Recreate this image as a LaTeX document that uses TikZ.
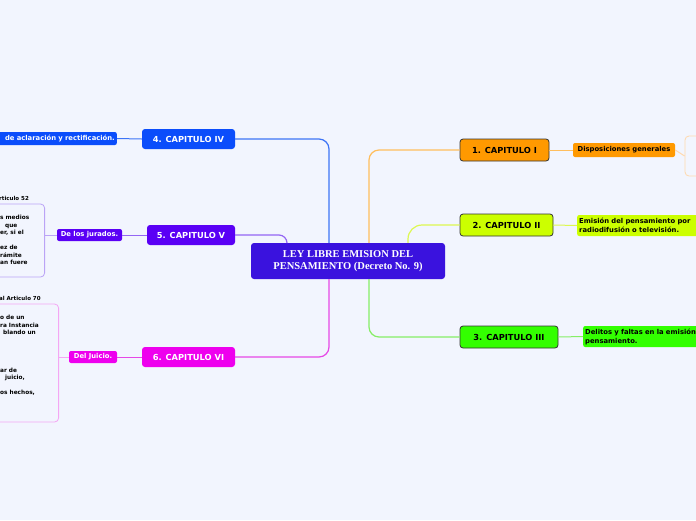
\documentclass[tikz,border=0pt]{standalone}
\usepackage{fontspec}
\setmainfont{DejaVu Sans}
\newfontfamily\serifb{Liberation Serif}
\usetikzlibrary{calc}
\definecolor{bg}{HTML}{F2F5FE}
\definecolor{rootC}{HTML}{3A12DE}
\definecolor{orangeC}{HTML}{FF9900}
\definecolor{orangeL}{HTML}{FFBE5E}
\definecolor{orangeB}{HTML}{FFD9AE}
\definecolor{limeC}{HTML}{CCFF00}
\definecolor{limeL}{HTML}{DDF850}
\definecolor{greenC}{HTML}{33FF00}
\definecolor{greenL}{HTML}{86EE66}
\definecolor{blueC}{HTML}{0B4DFB}
\definecolor{blueL}{HTML}{3D74F6}
\definecolor{purpleC}{HTML}{5A00F5}
\definecolor{purpleL}{HTML}{9466F4}
\definecolor{purpleB}{HTML}{BBA4F6}
\definecolor{magentaC}{HTML}{EE00EE}
\definecolor{magentaL}{HTML}{E648E6}
\definecolor{magentaB}{HTML}{F4A6F4}
\tikzset{
  capbox/.style={rounded corners=3pt, minimum height=20pt, inner sep=0pt,
    font=\fontsize{8.3}{10}\selectfont\bfseries},
  capdark/.style={capbox, minimum height=22pt, draw=black!80, line width=0.8pt},
  lab/.style={rounded corners=2pt, inner sep=2pt,
    font=\fontsize{6.8}{9}\selectfont\bfseries},
  boxtxt/.style={font=\fontsize{5.8}{7.5}\selectfont\bfseries, align=left,
    inner sep=0pt, anchor=north west},
  boxhead/.style={font=\fontsize{5.5}{6}\selectfont\bfseries, anchor=west, inner sep=0pt},
  outline/.style={rounded corners=4pt, line width=0.8pt, fill=none},
  conn/.style={line width=1.2pt, rounded corners=10pt},
  sub/.style={line width=1pt}
}
\begin{document}
\begin{tikzpicture}[x=1pt,y=-1pt]
\fill[bg] (0,0) rectangle (696,520);
\useasboundingbox (0,0) rectangle (696,520);
\clip (0,0) rectangle (696,520);

% central
\node[fill=rootC, rounded corners=3pt, minimum width=194pt, minimum height=36pt,
  text=white, align=center, inner sep=0pt,
  font=\serifb\fontsize{10.5}{12.5}\selectfont\bfseries] (root) at (348,261)
  {LEY LIBRE EMISION DEL\\PENSAMIENTO (Decreto No. 9)};

% right side
\node[capdark, fill=orangeC, minimum width=89pt] (c1) at (504.5,150) {1. CAPITULO I};
\node[lab, fill=orangeC, minimum width=102pt, minimum height=14pt] (d1) at (624,150) {Disposiciones generales};
\node[outline, draw=orangeB, minimum width=40pt, minimum height=40pt] (b1) at (705,156) {};

\node[capdark, fill=limeC, minimum width=93pt] (c2) at (506.5,225) {2. CAPITULO II};
\node[lab, fill=limeC, anchor=west, minimum height=21pt, text width=130pt, align=left] (d2) at (577,225.5)
  {Emisión del pensamiento por\\radiodifusión o televisión.};

\node[capdark, fill=greenC, minimum width=98pt] (c3) at (509,337) {3. CAPITULO III};
\node[lab, fill=greenC, anchor=west, minimum height=21pt, text width=140pt, align=left] (d3) at (583,336.5)
  {Delitos y faltas en la emisión\\pensamiento.};

% left side
\node[capbox, fill=blueC, text=white, minimum width=93pt] (c4) at (188.5,139) {4. CAPITULO IV};
\node[lab, fill=blueC, text=white, anchor=east, text width=120pt, align=right, minimum height=13pt] (d4) at (117,138.5)
  {de aclaración y rectificación.};

\node[capbox, fill=purpleC, text=white, minimum width=88pt] (c5) at (191,235) {5. CAPITULO V};
\node[lab, fill=purpleC, text=white, minimum width=65pt, minimum height=12pt] (d5) at (89.5,235) {De los jurados.};
\node[outline, draw=purpleB, minimum width=70pt, minimum height=73pt, anchor=east] (b5) at (45,240.5) {};
\node[boxhead] (h5) at (-1,198.5) {rticulo 52};
\node[boxtxt] (x5) at (0,215) {s medios\\\kern5pt que\\er, si el\\[7.5pt]ez de\\rámite\\an fuere};

\node[capbox, fill=magentaC, text=white, minimum width=93pt] (c6) at (188.5,357) {6. CAPITULO VI};
\node[lab, fill=magentaC, text=white, minimum width=48pt, minimum height=12pt] (d6) at (93,357) {Del Juicio.};
\node[outline, draw=magentaB, minimum width=80pt, minimum height=118pt, anchor=east] (b6) at (59,363) {};
\node[boxhead] (h6) at (-1,298.5) {al Articulo 70};
\node[boxtxt] (x6) at (0,315) {o de un\\ra Instancia\\\kern3pt blando un\\[30pt]ar de\\\kern5pt juicio,\\[7.5pt]os hechos,};

% main connectors
\draw[conn, draw=orangeL] ($(root.north)+(21,0)$) |- (c1.west);
\draw[conn, draw=limeL, rounded corners=14pt] ($(root.north)+(60,0)$) |- (c2.west);
\draw[conn, draw=greenL] ($(root.south)+(21,0)$) |- (c3.west);
\draw[conn, draw=blueL] ($(root.north)+(-19,0)$) |- (c4.east);
\draw[conn, draw=purpleL, rounded corners=8pt] ($(root.north)+(-61,0)$) |- (c5.east);
\draw[conn, draw=magentaL] ($(root.south)+(-19,0)$) |- (c6.east);

% secondary connectors
\draw[sub, draw=orangeL] (c1.east) -- (d1.west);
\draw[sub, draw=orangeB] (d1.east) -- (b1.west);
\draw[sub, draw=limeL] (c2.east) -- (d2.west);
\draw[sub, draw=greenL] (c3.east) -- (d3.west);
\draw[sub, draw=blueL] (c4.west) -- (d4.east);
\draw[sub, draw=purpleL] (c5.west) -- (d5.east);
\draw[sub, draw=purpleB] (d5.west) -- (d5.west -| b5.east);
\draw[sub, draw=magentaL] (c6.west) -- (d6.east);
\draw[sub, draw=magentaB] (d6.west) -- (d6.west -| b6.east);
\end{tikzpicture}
\end{document}
